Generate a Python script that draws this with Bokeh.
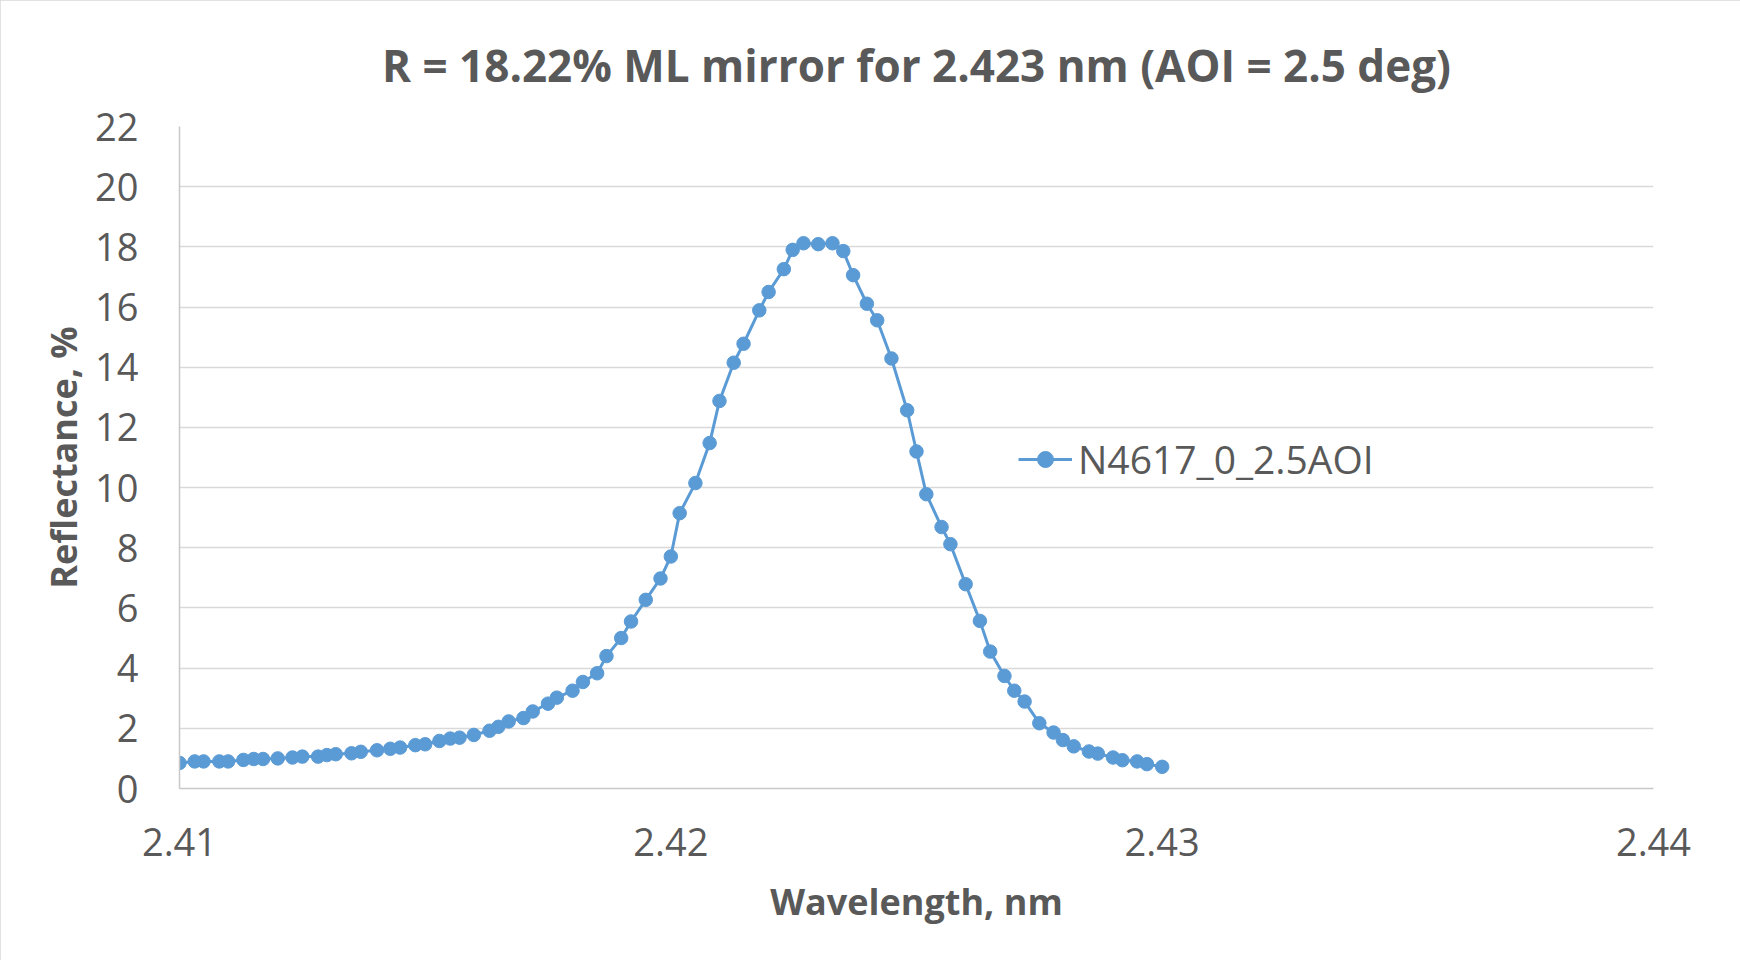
from bokeh.plotting import figure
from bokeh.models import FixedTicker, PrintfTickFormatter, Range1d, Legend, LegendItem, ColumnDataSource
from bokeh.embed import file_html
from bokeh.resources import INLINE

# Data
wavelength_nm = [
    2.41000, 2.41031, 2.41049, 2.41081, 2.41099, 2.41130, 2.41151, 2.41170, 2.41200, 2.41230,
    2.41250, 2.41282, 2.41300, 2.41318, 2.41350, 2.41369, 2.41402, 2.41429, 2.41449, 2.41480,
    2.41500, 2.41529, 2.41551, 2.41570, 2.41599, 2.41631, 2.41649, 2.41670, 2.41700, 2.41719,
    2.41750, 2.41768, 2.41800, 2.41821, 2.41850, 2.41869, 2.41899, 2.41919, 2.41949, 2.41979,
    2.42000, 2.42018, 2.42050, 2.42079, 2.42099, 2.42128, 2.42148, 2.42180, 2.42199, 2.42230,
    2.42248, 2.42270, 2.42300, 2.42329, 2.42351, 2.42371, 2.42399, 2.42420, 2.42449, 2.42481,
    2.42500, 2.42520, 2.42551, 2.42569, 2.42600, 2.42629, 2.42650, 2.42679, 2.42699, 2.42720,
    2.42750, 2.42779, 2.42798, 2.42820, 2.42851, 2.42869, 2.42900, 2.42919, 2.42949, 2.42969,
    2.43000,
]
reflectance_pct = [
    0.85, 0.90, 0.90, 0.90, 0.90, 0.95, 0.98, 0.98, 1.00, 1.03,
    1.06, 1.06, 1.11, 1.14, 1.17, 1.22, 1.27, 1.32, 1.36, 1.44,
    1.47, 1.58, 1.66, 1.69, 1.78, 1.92, 2.05, 2.23, 2.34, 2.56,
    2.82, 3.02, 3.25, 3.54, 3.83, 4.40, 5.00, 5.55, 6.27, 6.98,
    7.71, 9.15, 10.15, 11.48, 12.88, 14.15, 14.78, 15.89, 16.50, 17.26,
    17.90, 18.12, 18.09, 18.12, 17.86, 17.06, 16.11, 15.56, 14.29, 12.57,
    11.20, 9.78, 8.69, 8.12, 6.79, 5.57, 4.55, 3.74, 3.25, 2.89,
    2.17, 1.86, 1.61, 1.40, 1.23, 1.16, 1.03, 0.94, 0.90, 0.81,
    0.72,
]
x_ticks = [2.41, 2.42, 2.43, 2.44]
y_ticks = [0, 2, 4, 6, 8, 10, 12, 14, 16, 18, 20, 22]
series_name = "N4617_0_2.5AOI"
title_text = "R = 18.22% ML mirror for 2.423 nm (AOI = 2.5 deg)"
x_label = "Wavelength, nm"
y_label = "Reflectance, %"

FONT = "Open Sans"
TXT = "#595959"
BLUE = "#5b9bd5"

p = figure(width=1740, height=960, output_backend="svg", toolbar_location=None,
           x_range=Range1d(x_ticks[0], x_ticks[-1]), y_range=Range1d(y_ticks[0], y_ticks[-1]),
           min_border_left=179, min_border_right=87, min_border_top=126, min_border_bottom=172)
p.styles = {"outline": "2px solid #d9d9d9", "outline-offset": "-2px"}
p.outline_line_color = None
p.background_fill_color = "white"
p.border_fill_color = "white"

p.title.text = title_text
p.title.align = "center"
p.title.text_font = FONT
p.title.text_font_style = "bold"
p.title.text_font_size = "44px"
p.title.text_color = TXT
p.title.standoff = 64

src = ColumnDataSource(dict(x=wavelength_nm, y=reflectance_pct))
ln = p.line("x", "y", source=src, line_color=BLUE, line_width=3)
sc = p.scatter("x", "y", source=src, size=13.5, fill_color=BLUE, line_color=BLUE)

p.xaxis.ticker = FixedTicker(ticks=x_ticks)
p.yaxis.ticker = FixedTicker(ticks=y_ticks)
p.xaxis.formatter = PrintfTickFormatter(format="%.2f")
p.yaxis.formatter = PrintfTickFormatter(format="%d")
for ax in (p.xaxis[0], p.yaxis[0]):
    ax.major_tick_line_color = None
    ax.minor_tick_line_color = None
    ax.axis_line_color = "#c8c8c8"
    ax.axis_line_width = 1.5
    ax.major_label_text_font = FONT
    ax.major_label_text_font_size = "38px"
    ax.major_label_text_color = TXT
    ax.axis_label_text_font = FONT
    ax.axis_label_text_font_style = "bold"
    ax.axis_label_text_font_size = "36px"
    ax.axis_label_text_color = TXT
p.xaxis.axis_label = x_label
p.yaxis.axis_label = y_label
p.xaxis.major_label_standoff = 33
p.yaxis.major_label_standoff = 35
p.xaxis.axis_label_standoff = 18
p.yaxis.axis_label_standoff = 4

p.xgrid.grid_line_color = None
p.ygrid.grid_line_color = "#d9d9d9"
p.ygrid.grid_line_width = 1.3

legend = Legend(items=[LegendItem(label=series_name, renderers=[ln, sc])],
                location=(839, 303), orientation="vertical")
legend.border_line_color = None
legend.background_fill_alpha = 0
legend.padding = 0
legend.margin = 0
legend.glyph_width = 54
legend.glyph_height = 40
legend.label_height = 40
legend.label_standoff = 6
legend.label_text_font = FONT
legend.label_text_font_size = "39px"
legend.label_text_color = TXT
legend.label_text_baseline = "middle"
p.add_layout(legend, "center")

open("out.html", "w").write(file_html(p, INLINE))
